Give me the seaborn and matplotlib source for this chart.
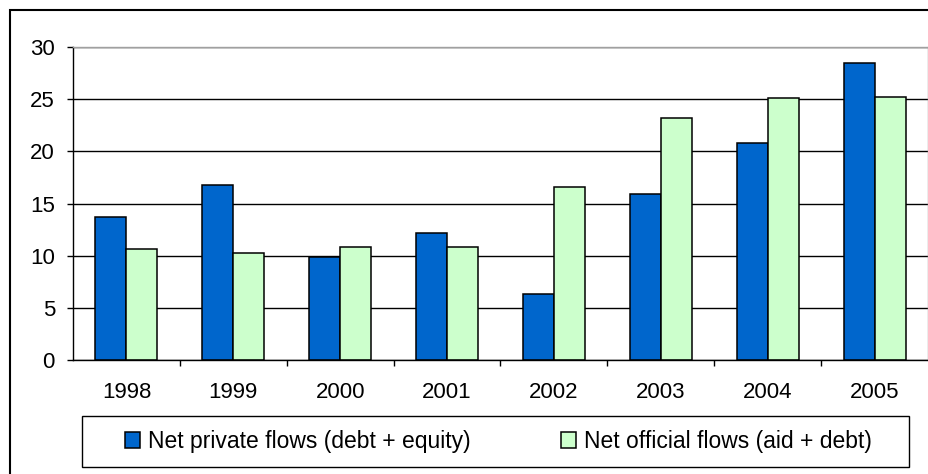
import matplotlib
matplotlib.use("Agg")
import matplotlib.pyplot as plt
import seaborn as sns
import pandas as pd
from matplotlib.patches import Rectangle

years = ["1998", "1999", "2000", "2001", "2002", "2003", "2004", "2005"]
private_flows = [13.7, 16.8, 9.9, 12.2, 6.3, 15.9, 20.8, 28.5]
official_flows = [10.6, 10.3, 10.8, 10.8, 16.6, 23.2, 25.1, 25.2]
series_names = ["Net private flows (debt + equity)", "Net official flows (aid + debt)"]
y_ticks = [0, 5, 10, 15, 20, 25, 30]

df = pd.DataFrame({
    "year": years * 2,
    "value": private_flows + official_flows,
    "series": [series_names[0]] * len(years) + [series_names[1]] * len(years),
})

sns.set_style("white")
plt.rcParams["font.family"] = ["Liberation Sans", "DejaVu Sans"]
plt.rcParams["text.color"] = "black"
plt.rcParams["xtick.color"] = "black"
plt.rcParams["ytick.color"] = "black"
plt.rcParams["axes.labelcolor"] = "black"

W, H = 929, 474
fig = plt.figure(figsize=(W / 100, H / 100), dpi=100)
ax = fig.add_axes([73 / W, (H - 360) / H, 855 / W, 313 / H])

# outer frame
fig.patches.append(Rectangle((10 / W, -0.1), 1.2, (H - 10) / H + 0.1,
                             transform=fig.transFigure, fill=False,
                             edgecolor="black", linewidth=1.5, zorder=0))

sns.barplot(data=df, x="year", y="value", hue="series", order=years,
            hue_order=series_names, palette=["#0066CC", "#CCFFCC"],
            edgecolor="black", linewidth=1.1, width=0.58, gap=0,
            saturation=1, ax=ax, legend=True)

ax.set_ylim(0, 30)
ax.set_xlim(-0.5, len(years) - 0.5)
ax.set_yticks(y_ticks)
ax.set_yticklabels([str(t) for t in y_ticks])
ax.yaxis.grid(True, color="black", linewidth=1.0)
ax.set_axisbelow(True)
ax.set_xlabel("")
ax.set_ylabel("")

for s in ["top", "right"]:
    ax.spines[s].set_color("#A0A0A0")
    ax.spines[s].set_linewidth(1.0)
for s in ["left", "bottom"]:
    ax.spines[s].set_color("black")
    ax.spines[s].set_linewidth(1.0)

ax.tick_params(axis="y", which="major", length=4.5, width=1, color="black",
               labelsize=16, pad=8.5, left=True)
ax.tick_params(axis="x", which="major", length=0, labelsize=16, pad=15.5)
ax.set_xticks([i + 0.5 for i in range(len(years) - 1)], minor=True)
ax.tick_params(axis="x", which="minor", length=4.5, width=1, color="black", bottom=True)

handles, labels = ax.get_legend_handles_labels()
if ax.legend_:
    ax.legend_.remove()
leg = fig.legend(handles, labels, loc="center", mode="expand",
                 bbox_to_anchor=(125 / W, (H - 441.5) / H, 747 / W, 0),
                 ncol=2, frameon=False, fontsize=16.5,
                 handlelength=0.65, handleheight=0.7, handletextpad=0.35,
                 columnspacing=3.7, borderpad=0, borderaxespad=0)

fig.patches.append(Rectangle((82 / W, (H - 467) / H), 827 / W, 51 / H,
                             transform=fig.transFigure, fill=False,
                             edgecolor="black", linewidth=1.0, zorder=1))

fig.savefig("out.png", dpi=100)
